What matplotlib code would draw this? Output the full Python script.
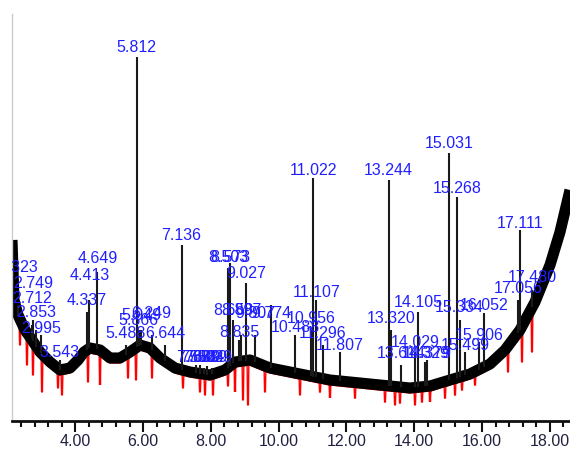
import numpy as np
import matplotlib
matplotlib.use("Agg")
import matplotlib.pyplot as plt
from matplotlib.ticker import MultipleLocator

# ---------------- data (retention time in min, abundance in arbitrary units) ----------------
base_t = [2.133, 2.192, 2.310, 2.516, 2.723, 2.959, 3.254, 3.549, 3.844, 4.080, 4.257, 4.434,
          4.729, 5.024, 5.319, 5.614, 5.909, 6.204, 6.499, 6.941, 7.383, 7.973, 8.416, 8.711,
          9.153, 9.743, 10.333, 10.923, 11.513, 12.103, 12.693, 13.283, 13.873, 14.463,
          15.053, 15.643, 16.233, 16.676, 17.118, 17.560, 18.003, 18.298, 18.593]
base_v = [181, 121, 106, 91, 81, 69, 59, 51, 53, 61, 69, 73,
          71, 63, 63, 69, 76, 73, 63, 53, 49, 46, 51, 59,
          61, 53, 49, 45, 41, 39, 37, 35, 33, 35,
          41, 47, 57, 71, 91, 119, 156, 189, 231]

peak_labels = ["2.323", "2.712", "2.749", "2.853", "2.995", "3.543", "4.337", "4.413", "4.649",
               "5.488", "5.812", "5.866", "5.949", "6.249", "6.644", "7.136", "7.558", "7.689",
               "7.804", "7.889", "8.029", "8.503", "8.573", "8.658", "8.835", "8.897", "9.027",
               "9.307", "9.774", "10.488", "10.956", "11.022", "11.107", "11.296", "11.807",
               "13.244", "13.320", "13.614", "14.029", "14.105", "14.329", "14.379", "15.031",
               "15.268", "15.334", "15.499", "15.906", "16.052", "17.056", "17.111", "17.480"]
peak_t = [float(s) for s in peak_labels]
peak_top = [116, 96, 101, 91, 86, 61, 109, 121, 149,
            76, 364, 91, 91, 86, 76, 176, 56, 56,
            53, 55, 53, 153, 158, 101, 81, 86, 138,
            86, 116, 86, 91, 243, 121, 76, 69,
            241, 91, 56, 69, 109, 59, 61, 268,
            224, 101, 69, 79, 108, 121, 191, 131]
label_y = [149, 118, 133, 104, 88, 64, 116, 141, 158,
           83, 369, 96, 101, 103, 83, 181, 59, 59,
           59, 59, 59, 159, 159, 106, 84, 106, 143,
           103, 103, 89, 98, 246, 124, 83, 71,
           246, 98, 63, 74, 114, 63, 63, 273,
           228, 109, 71, 81, 111, 128, 193, 139]

# second (red) trace: dips below the black one
red_dip_t = [2.369, 2.575, 2.752, 3.018, 3.490, 3.608, 4.375, 4.729, 5.555, 5.791, 6.263,
             7.177, 7.678, 7.826, 8.062, 8.504, 8.711, 8.947, 9.094, 9.596, 10.628, 11.218,
             11.513, 12.251, 13.136, 13.431, 13.578, 14.021, 14.227, 14.463, 14.906, 15.201,
             15.407, 15.791, 16.764, 17.177, 17.472]
red_dip_v = [76, 56, 46, 29, 33, 26, 39, 36, 43, 41, 43,
             33, 29, 26, 26, 35, 29, 21, 16, 29, 26, 29,
             23, 23, 19, 16, 18, 16, 19, 19, 23, 26,
             31, 36, 49, 59, 69]

tick_values = [4, 6, 8, 10, 12, 14, 16, 18]
tick_labels = ["4.00", "6.00", "8.00", "10.00", "12.00", "14.00", "16.00", "18.00"]

# ---------------- drawing ----------------
fam = "Liberation Sans"

fig = plt.figure(figsize=(5.70, 4.61), dpi=100)
ax = fig.add_axes([12 / 570, 40 / 461, 558 / 570, 407 / 461])
ax.set_xlim(2.133, 18.593)
ax.set_ylim(0, 407)

bt = np.array(base_t)
bv = np.array(base_v, dtype=float)

# red trace (behind)
rt = list(bt)
rv = list(bv - 5)
w = 0.025
for t, v in zip(red_dip_t, red_dip_v):
    b = np.interp(t, bt, bv) - 5
    rt += [t - w, t - w * 0.5, t + w * 0.5, t + w]
    rv += [b, v, v, b]
order = np.argsort(rt)
ax.plot(np.array(rt)[order], np.array(rv)[order], color="#ff0000", lw=1.0, zorder=1,
        solid_joinstyle="miter")

# black noisy band
ax.plot(bt, bv, color="#000000", lw=8, zorder=2, solid_capstyle="butt")

# peaks
pb = np.interp(peak_t, bt, bv)
ax.vlines(peak_t, pb, peak_top, color="#1a1a1a", lw=1.5, zorder=3)

# labels
for s, t, y in zip(peak_labels, peak_t, label_y):
    ax.text(t, y, s, ha="center", va="baseline", color="#2020ff", fontsize=11.5,
            family=fam, zorder=4, clip_on=True)

# axes styling
for side in ("top", "right"):
    ax.spines[side].set_visible(False)
ax.spines["left"].set_color("#cccccc")
ax.spines["left"].set_linewidth(1.0)
ax.spines["bottom"].set_color("#111111")
ax.spines["bottom"].set_linewidth(2.0)
ax.set_yticks([])
ax.set_xticks(tick_values)
ax.set_xticklabels(tick_labels)
ax.xaxis.set_minor_locator(MultipleLocator(0.4))
ax.tick_params(axis="x", which="major", length=8, width=1.5, color="#111111",
               labelsize=11.5, labelcolor="#202040", pad=1.5)
ax.tick_params(axis="x", which="minor", length=4.5, width=1.5, color="#111111")
for lab in ax.get_xticklabels():
    lab.set_family(fam)

fig.savefig("out.png", dpi=100)
